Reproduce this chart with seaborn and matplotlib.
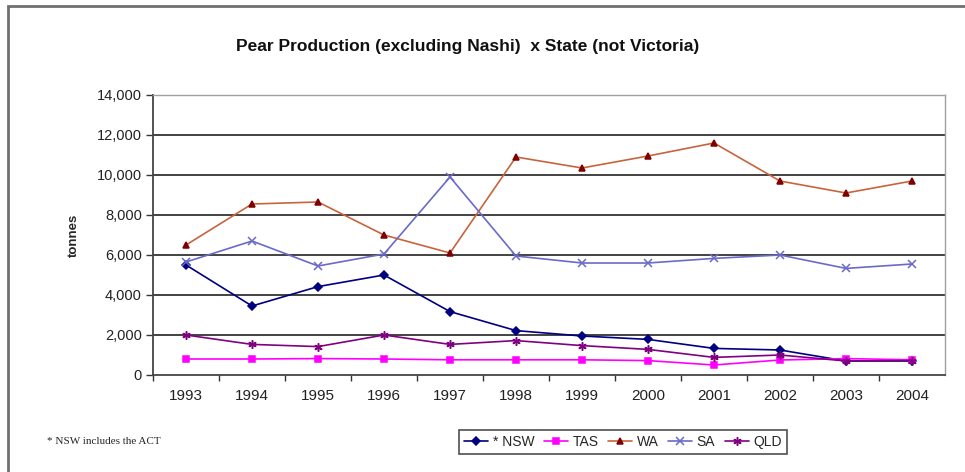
import pandas as pd
import matplotlib
matplotlib.use("Agg")
import matplotlib.pyplot as plt
import matplotlib.ticker as ticker
from matplotlib.patches import Rectangle
import seaborn as sns

# Data (tonnes)
years = [1993, 1994, 1995, 1996, 1997, 1998, 1999, 2000, 2001, 2002, 2003, 2004]
nsw = [5500, 3450, 4420, 5000, 3170, 2220, 1950, 1780, 1330, 1250, 700, 700]
tas = [800, 800, 820, 800, 760, 760, 760, 720, 500, 750, 820, 760]
wa = [6500, 8550, 8650, 7000, 6100, 10900, 10350, 10950, 11600, 9700, 9100, 9700]
sa = [5650, 6700, 5450, 6050, 9900, 5950, 5600, 5600, 5830, 6000, 5330, 5550]
qld = [2000, 1530, 1420, 2000, 1530, 1720, 1470, 1280, 880, 1000, 700, 720]

labels = ["* NSW", "TAS", "WA", "SA", "QLD"]
series = [nsw, tas, wa, sa, qld]
line_colors = ["#000080", "#FF00FF", "#C8643C", "#6A6AC8", "#800080"]
marker_colors = ["#000080", "#FF00FF", "#800000", "#6A6AC8", "#800080"]
markers = ["D", "s", "^", "x", (6, 2, 0)]
msizes = [4, 4, 4.5, 5.5, 6]

sns.set_theme(style="white")
plt.rcParams["font.family"] = ["Liberation Sans", "DejaVu Sans"]

fig = plt.figure(figsize=(9.65, 4.72), dpi=100)
ax = fig.add_axes([153 / 965, 97 / 472, 792 / 965, 280 / 472])

handles = []
for lab, vals, lc, mc, mk, ms in zip(labels, series, line_colors, marker_colors, markers, msizes):
    sns.lineplot(x=years, y=vals, ax=ax, color=lc, marker=mk, markersize=ms,
                 markerfacecolor=mc, markeredgecolor=mc, markeredgewidth=1.1,
                 linewidth=1.2, label=lab, legend=False)
    handles.append(ax.lines[-1])

ax.set_xlim(1992.5, 2004.5)
ax.set_ylim(0, 14000)
ax.set_xticks(years)
ax.set_xticklabels([str(y) for y in years], fontsize=11, color="#222222")
ax.xaxis.set_minor_locator(ticker.FixedLocator([y + 0.5 for y in years[:-1]] + [1992.5]))
ax.tick_params(axis="x", which="major", length=0, pad=10)
ax.tick_params(axis="x", which="minor", length=4, width=1, color="#333333", direction="out", bottom=True)
ax.set_yticks(range(0, 14001, 2000))
ax.yaxis.set_major_formatter(ticker.FuncFormatter(lambda v, p: f"{int(v):,}"))
ax.tick_params(axis="y", length=5, width=1, color="#333333", direction="out", left=True,
               labelsize=10.5, labelcolor="#222222", pad=3)

for v in range(2000, 14000, 2000):
    ax.axhline(v, color="#222222", linewidth=1.2, zorder=0)

for side in ["left", "bottom"]:
    ax.spines[side].set_color("#444444")
    ax.spines[side].set_linewidth(1.3)
for side in ["top", "right"]:
    ax.spines[side].set_color("#A0A0A0")
    ax.spines[side].set_linewidth(1)

ax.set_xlabel("")
ax.set_ylabel("tonnes", fontsize=9.5, fontweight="bold", labelpad=12)

fig.text(468 / 965, 1 - 47 / 472, "Pear Production (excluding Nashi)  x State (not Victoria)",
         ha="center", va="center", fontsize=12.5, fontweight="bold", color="#111111")

fig.text(47 / 965, 1 - 441 / 472, "* NSW includes the ACT", ha="left", va="center",
         fontsize=8, family=["Liberation Serif", "DejaVu Serif"])

leg = fig.legend(handles, labels, ncol=5, loc="center", bbox_to_anchor=(623 / 965, 1 - 442 / 472),
                 frameon=True, fancybox=False, handlelength=1.7, handletextpad=0.35,
                 columnspacing=0.7, borderpad=0.35, fontsize=10)
leg.get_frame().set_edgecolor("#222222")
leg.get_frame().set_linewidth(1.2)

# outer chart-area border (right and bottom fall outside the image)
fig.patches.append(Rectangle((8 / 965, -0.1), 1.2, 1.1 - 6 / 472, transform=fig.transFigure,
                             fill=False, edgecolor="#707070", linewidth=2))

fig.savefig("out.png", dpi=100)
